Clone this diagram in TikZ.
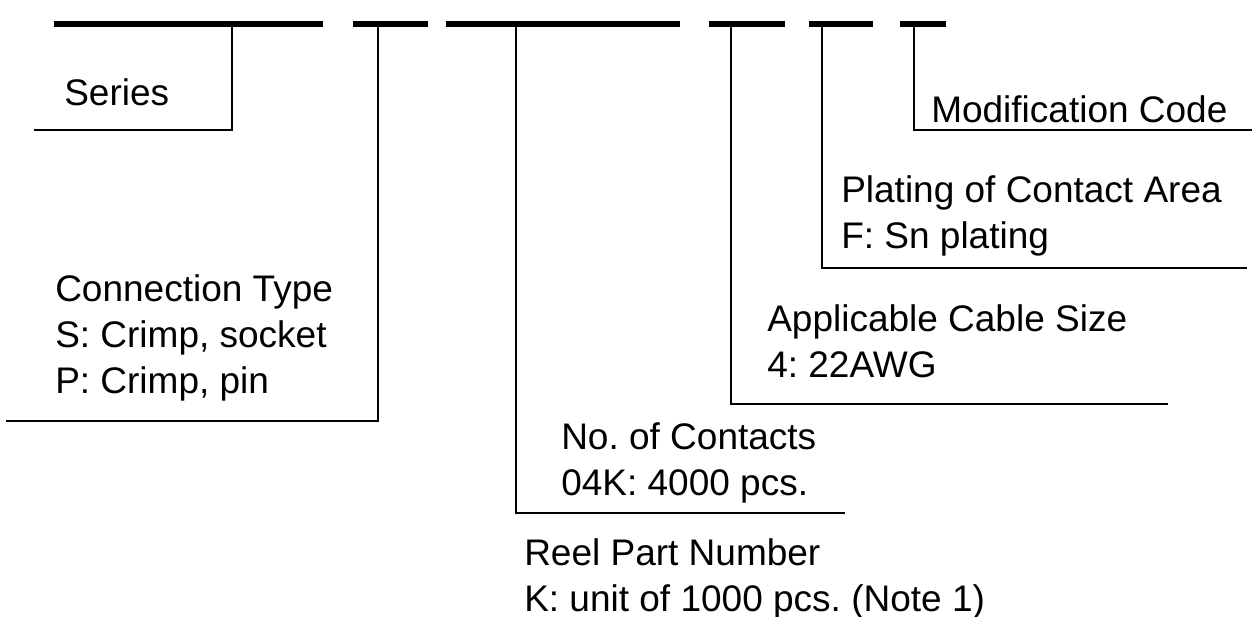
\documentclass[tikz,border=0pt]{standalone}
\usepackage{fontspec}
\setmainfont{Liberation Sans}
\usepackage{tikz}
\tikzset{every picture/.style={line width=1.5pt}}
\tikzset{
  codebar/.style={line width=3.2pt},
  leader/.style={line width=1.4pt},
  lbl/.style={anchor=base west, align=left, inner sep=0pt,
    font=\fontsize{22.2}{27.6}\selectfont\frenchspacing}
}

\begin{document}
\begin{tikzpicture}[x=0.6pt,y=0.6pt,yscale=-1,xscale=1]
    \useasboundingbox (0,0) rectangle (1253,617);
    % code fields
    \draw[codebar] (54,24) -- (323,24) ;
    \draw[codebar] (353,24) -- (428,24) ;
    \draw[codebar] (446,24) -- (680,24) ;
    \draw[codebar] (709,24) -- (785,24) ;
    \draw[codebar] (809,24) -- (873,24) ;
    \draw[codebar] (900,24) -- (946,24) ;
    % taps on the fields
    \coordinate (serTap) at (232,24) ;
    \coordinate (conTap) at (378,24) ;
    \coordinate (qtyTap) at (516,24) ;
    \coordinate (awgTap) at (731,24) ;
    \coordinate (plaTap) at (822,24) ;
    \coordinate (modTap) at (914,24) ;
    % free ends of the leaders
    \coordinate (serEnd) at (34,130) ;
    \coordinate (conEnd) at (6,421) ;
    \coordinate (qtyEnd) at (845,513) ;
    \coordinate (awgEnd) at (1168,404) ;
    \coordinate (plaEnd) at (1247,268) ;
    \coordinate (modEnd) at (1252,130) ;
    \draw[leader] (serTap) |- (serEnd) ;
    \draw[leader] (conTap) |- (conEnd) ;
    \draw[leader] (qtyTap) |- (qtyEnd) ;
    \draw[leader] (awgTap) |- (awgEnd) ;
    \draw[leader] (plaTap) |- (plaEnd) ;
    \draw[leader] (modTap) |- (modEnd) ;
    % labels (base = last line)
    \node[lbl] (series) at (63,106) {Series};
    \node[lbl] (contype) at (54,393) {Connection Type\\S: Crimp, socket\\P: Crimp, pin};
    \node[lbl] (contacts) at (560,495) {No. of Contacts\\04K: 4000 pcs.};
    \node[lbl] (reel) at (523,611) {Reel Part Number\\K: unit of 1000 pcs. (Note 1)};
    \node[lbl] (cable) at (766,377) {Applicable Cable Size\\4: 22AWG};
    \node[lbl] (plating) at (840,248) {Plating of Contact Area\\F: Sn plating};
    \node[lbl] (modcode) at (930,123) {Modification Code};
\end{tikzpicture}
\end{document}
